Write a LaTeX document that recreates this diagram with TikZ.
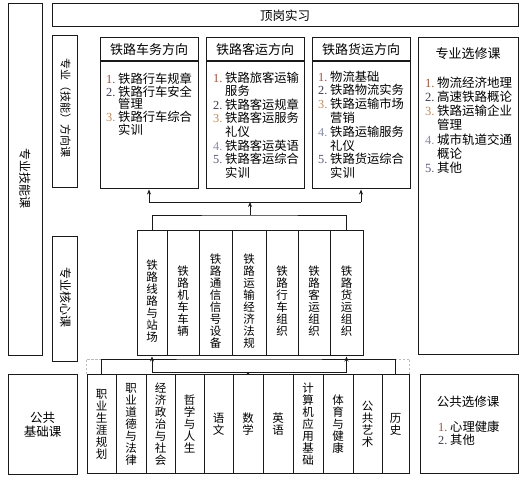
\documentclass[tikz,border=0pt]{standalone}
\usepackage{fontspec}
\setmainfont{Noto Sans CJK SC}
\newfontfamily\numfont{Liberation Serif}
\usetikzlibrary{arrows.meta}
\definecolor{lc}{HTML}{1A1A1A}
\definecolor{nA}{HTML}{A0523C}
\definecolor{nB}{HTML}{3C3C50}
\definecolor{nC}{HTML}{C08A58}
\definecolor{nD}{HTML}{8A8AA8}
\definecolor{nE}{HTML}{5A5A7A}
\definecolor{dg}{HTML}{BBBBBB}
\newcommand\inum[2]{\makebox[12pt][l]{\numfont\color{#1}#2.}}
\newcommand\ind{\hspace*{12pt}}
\begin{document}
\begin{tikzpicture}[x=1pt,y=-1pt,
  box/.style={draw=lc, line width=1pt, inner sep=0pt, fill=white},
  hdr/.style={font=\fontsize{13}{15}\selectfont, inner sep=0pt, align=center},
  lst/.style={inner sep=0pt, align=left, anchor=north west},
  vtxt/.style={inner sep=0pt, align=center, font=\fontsize{11.5}{12}\selectfont},
  rtxt/.style={inner sep=0pt, rotate=-90, font=\fontsize{12}{14}\selectfont},
  conn/.style={draw=lc, line width=0.9pt},
  arr/.style={conn, -{Stealth[length=5pt,width=4pt]}},
  arrs/.style={conn, -{Stealth[length=3pt,width=4pt]}},
  dsh/.style={draw=dg, line width=0.8pt, dash pattern=on 2.5pt off 1.5pt}]
\fill[white] (0,0) rectangle (525,478);
\useasboundingbox (0,0) rectangle (525,478);

% left big boxes
\node[box, minimum width=34pt, minimum height=352pt] (skill) at (25,180) {};
\node[rtxt] (skillT) at (25,179) {专业技能课};
\node[box, minimum width=466pt, minimum height=23pt, font=\fontsize{12.5}{14}\selectfont] (intern) at (285,15.5) {顶岗实习};
\node[box, minimum width=25pt, minimum height=152pt] (dirlab) at (64.5,112) {};
\node[rtxt, font=\fontsize{11}{13}\selectfont] (dirlabT) at (65.5,108) {专业（技能）方向课};
\node[box, minimum width=25pt, minimum height=125pt] (corelab) at (64.5,299.5) {};
\node[rtxt] (corelabT) at (65.5,298) {专业核心课};

% direction boxes
\node[box, minimum width=98pt, minimum height=23pt, hdr] (d1h) at (149,49.5) {铁路车务方向};
\node[box, minimum width=98pt, minimum height=127.5pt, anchor=north] (d1b) at (149,61) {};
\node[box, minimum width=98pt, minimum height=23pt, hdr] (d2h) at (255,49.5) {铁路客运方向};
\node[box, minimum width=98pt, minimum height=127.5pt, anchor=north] (d2b) at (255,61) {};
\node[box, minimum width=98pt, minimum height=23pt, hdr] (d3h) at (361,49.5) {铁路货运方向};
\node[box, minimum width=98pt, minimum height=127.5pt, anchor=north] (d3b) at (361,61) {};

\node[lst, font=\fontsize{12.3}{12.8}\selectfont] (d1l) at (106,72.5)
  {\inum{nA}{1}铁路行车规章\\\inum{nB}{2}铁路行车安全\\\ind 管理\\\inum{nC}{3}铁路行车综合\\\ind 实训};
\node[lst, font=\fontsize{12.3}{13.6}\selectfont] (d2l) at (213,71.5)
  {\inum{nA}{1}铁路旅客运输\\\ind 服务\\\inum{nB}{2}铁路客运规章\\\inum{nC}{3}铁路客运服务\\\ind 礼仪\\\inum{nD}{4}铁路客运英语\\\inum{nE}{5}铁路客运综合\\\ind 实训};
\node[lst, font=\fontsize{12.3}{13.8}\selectfont] (d3l) at (318,70.5)
  {\inum{nA}{1}物流基础\\\inum{nB}{2}铁路物流实务\\\inum{nC}{3}铁路运输市场\\\ind 营销\\\inum{nD}{4}铁路运输服务\\\ind 礼仪\\\inum{nE}{5}铁路货运综合\\\ind 实训};

% professional electives
\node[box, minimum width=100pt, minimum height=317pt] (elec) at (468,196.5) {};
\node[hdr] (elecT) at (468,54) {专业选修课};
\node[lst, font=\fontsize{12.5}{14.2}\selectfont] (elecl) at (425,76.5)
  {\inum{nA}{1}物流经济地理\\\inum{nB}{2}高速铁路概论\\\inum{nC}{3}铁路运输企业\\\ind 管理\\\inum{nD}{4}城市轨道交通\\\ind 概论\\\inum{nE}{5}其他};

% core courses
\foreach \n/\xa/\xb in {c1/137/167, c2/167/199, c3/199/232, c4/232/266, c5/266/298, c6/298/330, c7/330/363}{
  \node[box, minimum width=\xb pt-\xa pt, minimum height=125pt] (\n) at ({(\xa+\xb)/2},293.5) {};
}
\node[vtxt] (c1T) at (c1 |- 0,301) {铁\\路\\线\\路\\与\\站\\场};
\node[vtxt] (c2T) at (c2 |- 0,301) {铁\\路\\机\\车\\车\\辆};
\node[vtxt] (c3T) at (c3 |- 0,301) {铁\\路\\通\\信\\信\\号\\设\\备};
\node[vtxt] (c4T) at (c4 |- 0,301) {铁\\路\\运\\输\\经\\济\\法\\规};
\node[vtxt] (c5T) at (c5 |- 0,301) {铁\\路\\行\\车\\组\\织};
\node[vtxt] (c6T) at (c6 |- 0,301) {铁\\路\\客\\运\\组\\织};
\node[vtxt] (c7T) at (c7 |- 0,301) {铁\\路\\货\\运\\组\\织};

% public basic
\node[box, minimum width=69pt, minimum height=99pt, align=center, font=\fontsize{12.5}{14}\selectfont] (pub) at (42.5,424.5) {公共\\基础课};
\foreach \n/\xa/\xb/\t in {b1/87/116/{职\\业\\生\\涯\\规\\划}, b2/116/146/{职\\业\\道\\德\\与\\法\\律}, b3/146/175/{经\\济\\政\\治\\与\\社\\会}, b4/175/204/{哲\\学\\与\\人\\生}, b5/204/233/{语\\文}, b6/233/263/{数\\学}, b7/263/293/{英\\语}, b8/293/323/{计\\算\\机\\应\\用\\基\\础}, b9/323/353/{体\\育\\与\\健\\康}, b10/353/382/{公\\共\\艺\\术}, b11/382/409/{历\\史}}{
  \node[box, vtxt, minimum width=\xb pt-\xa pt, minimum height=98pt] (\n) at ({(\xa+\xb)/2},424) {\t};
}

% public electives
\node[box, minimum width=98pt, minimum height=98pt] (pel) at (469,424) {};
\node[hdr, font=\fontsize{12.5}{14}\selectfont] (pelT) at (468,402) {公共选修课};
\node[lst, font=\fontsize{12.3}{12.5}\selectfont] (pell) at (438,421)
  {\inum{nA}{1}心理健康\\\inum{nB}{2}其他};

% connectors: core -> directions
\coordinate (jt) at (250,215);
\coordinate (jd) at (250,202);
\draw[conn] (c1.north) |- (jt) -| (c7.north);
\draw[arr] (jt) -- (jd);
\draw[conn] (d1b.south |- jd) -- (d3b.south |- jd);
\draw[arr] (d1b.south |- jd) -- (d1b.south);
\draw[arr] (d3b.south |- jd) -- (d3b.south);

% connectors: public basic -> core
\coordinate (ju) at (250,359);
\coordinate (jl) at (250,372);
\draw[dsh] (b1.north west) |- (b1.north |- ju);
\draw[dsh] (b11.north east) |- (b11.north |- ju);
\draw[conn] (b1.north) |- (ju) -| (b11.north);
\draw[conn] (c1.south |- jl) -- (c7.south |- jl);
\draw[arr] (c1.south |- jl) -- (c1.south);
\draw[arr] (c7.south |- jl) -- (c7.south);
\draw[arrs] (b6.north) -- (b6.north |- jl);
\end{tikzpicture}
\end{document}
